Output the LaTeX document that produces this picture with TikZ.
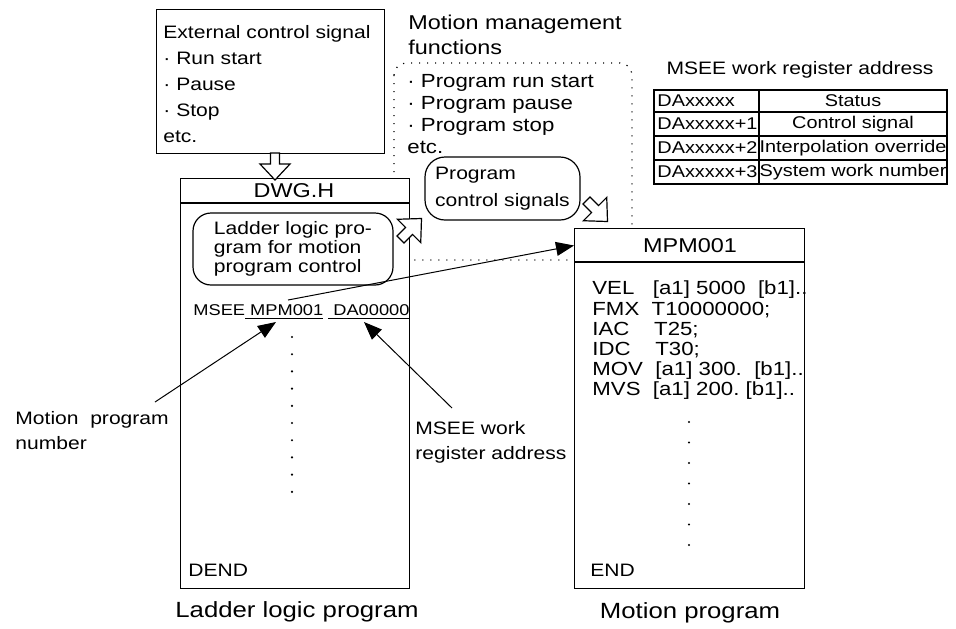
\documentclass[tikz,border=0pt]{standalone}
\usepackage{fontspec}
\setmainfont{Liberation Sans}[FakeStretch=1.17]
\usetikzlibrary{arrows.meta}

\begin{document}
\begin{tikzpicture}[x=0.5pt, y=-0.5pt,
    every node/.style={inner sep=0pt},
    frame/.style={draw, line width=0.65pt, fill=white},
    thinarrow/.style={line width=0.5pt, -{Triangle[length=9pt,width=7pt]}},
    pics/hollowarrow/.style={code={
        \draw[line width=0.6pt, fill=white] (0,-4.5) -- (11,-4.5) -- (11,-15) -- (27,0)
            -- (11,15) -- (11,4.5) -- (0,4.5) -- cycle;}}]

    \useasboundingbox (0,0) rectangle (956,628);

    % motion management area (dotted)
    \draw[line width=0.6pt, dash pattern=on 0.6pt off 3.4pt, rounded corners=6pt] (394,63) rectangle (632,260);
    \node[anchor=west, align=left, font=\fontsize{10}{12.5}\selectfont] (mmtitle) at (408,34.5) {Motion management\\functions};
    \node[anchor=west, align=left, font=\fontsize{9.5}{10.85}\selectfont] (mmlist) at (407,114)
        {· Program run start\\· Program pause\\· Program stop\\etc.};
    \node[draw, line width=0.6pt, rounded corners=10pt, minimum width=77.5pt, minimum height=31.5pt,
        align=left, font=\fontsize{9}{13.5}\selectfont] (pcs) at (502.5,188.5) {Program\\control signals};

    % external signals
    \node[frame, anchor=north west, minimum width=114pt, minimum height=72pt] (extbox) at (156,9) {};
    \node[anchor=west, align=left, font=\fontsize{9}{13}\selectfont] (exttext) at (163,84.5)
        {External control signal\\· Run start\\· Pause\\· Stop\\etc.};

    % ladder logic program
    \node[frame, anchor=north west, minimum width=114.5pt, minimum height=205pt] (dwgbox) at (180,178) {};
    \draw[line width=0.65pt] ([yshift=-12.5pt]dwgbox.north west) -- ([yshift=-12.5pt]dwgbox.north east);
    \node[font=\fontsize{10}{12}\selectfont] (dwgtitle) at (294,190.5) {DWG.H};
    \node[draw, line width=0.6pt, rounded corners=9pt, minimum width=100pt, minimum height=36pt,
        align=left, font=\fontsize{9}{9.5}\selectfont] (ladderprog) at (293,249)
        {Ladder logic pro-\\gram for motion\\program control};
    \node[anchor=base west, font=\fontsize{7.8}{9}\selectfont] (msee) at (193,315.6)
        {MSEE\underline{\ MPM001}\ \underline{\ DA00000}};
    \foreach \k in {0,...,9}
        \fill (292,{337+17.2*\k}) circle (0.6pt);
    \node[anchor=west, font=\fontsize{9}{11}\selectfont] (dend) at (188,570) {DEND};

    % motion program
    \node[frame, anchor=north west, minimum width=115pt, minimum height=180pt] (mpmbox) at (574,228) {};
    \draw[line width=0.65pt] ([yshift=-17pt]mpmbox.north west) -- ([yshift=-17pt]mpmbox.north east);
    \node[font=\fontsize{10}{12}\selectfont] (mpmtitle) at (690,245.5) {MPM001};
    \node[anchor=west, align=left, font=\fontsize{9.5}{10.1}\selectfont] (mpmcode) at (592,340.5)
        {VEL\ \ \ [a1] 5000\ \ [b1]..\\FMX\ \ T10000000;\\IAC\ \ \ \ T25;\\IDC\ \ \ \ T30;\\MOV\ \ [a1] 300.\ \ [b1]..\\MVS\ \ [a1] 200.\ [b1]..};
    \foreach \k in {0,...,6}
        \fill (689,{422+20.5*\k}) circle (0.6pt);
    \node[anchor=west, font=\fontsize{9}{11}\selectfont] (mpmend) at (590,570) {END};

    % hollow arrows
    \pic[rotate=-90] at (275,153) {hollowarrow};
    \pic[rotate=45, scale=1.1] at (400.5,239.5) {hollowarrow};
    \pic[rotate=-45, scale=1.1] at (586.5,200.5) {hollowarrow};

    % register table
    \node[font=\fontsize{9}{11}\selectfont] (tabtitle) at (800,70) {MSEE work register address};
    \draw[line width=0.6pt] (654,90) rectangle (947,184);
    \foreach \y in {112,136,160}
        \draw[line width=0.6pt] (654,\y) -- (947,\y);
    \draw[line width=0.6pt] (759,90) -- (759,184);
    \foreach \y/\a/\s [count=\i] in {101/DAxxxxx/Status, 124/DAxxxxx+1/Control signal,
            148/DAxxxxx+2/Interpolation override, 172/DAxxxxx+3/System work number} {
        \node[anchor=west, font=\fontsize{8.5}{10}\selectfont] (addr\i) at (657,\y) {\a};
        \node[font=\fontsize{8.5}{10}\selectfont] (stat\i) at (853,\y) {\s};
    }

    % labels and pointers
    \node[anchor=west, align=left, font=\fontsize{9}{12.5}\selectfont] (numlabel) at (15,430.5)
        {Motion\ \ program\\number};
    \node[anchor=west, align=left, font=\fontsize{9}{12.5}\selectfont] (reglabel) at (415,442.5)
        {MSEE work\\register address};
    \coordinate (mpmref) at (288,300);
    \coordinate (numtail) at (155,402);
    \coordinate (numtip) at (276,322);
    \coordinate (regtail) at (452,408);
    \coordinate (regtip) at (364,322);
    \draw[thinarrow] (mpmref) -- (mpmtitle -| mpmbox.west);
    \draw[thinarrow] (numtail) -- (numtip);
    \draw[thinarrow] (regtail) -- (regtip);

    \node[font=\fontsize{11}{13}\selectfont] (laddercap) at (297,612) {Ladder logic program};
    \node[font=\fontsize{11}{13}\selectfont] (motioncap) at (690,613) {Motion program};

\end{tikzpicture}
\end{document}
